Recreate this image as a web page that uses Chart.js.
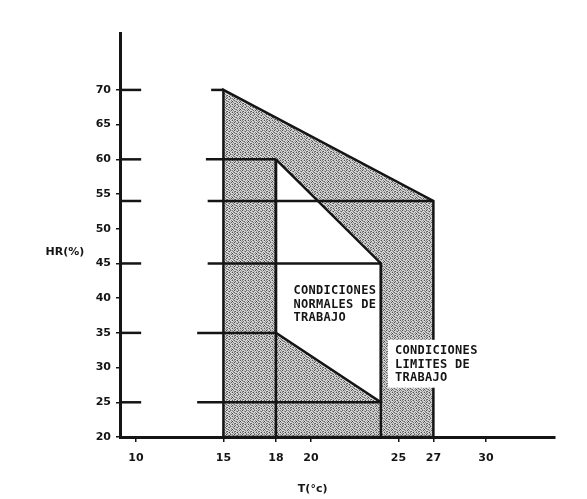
<!DOCTYPE html>
<html>
<head>
<meta charset="utf-8">
<script src="https://cdn.jsdelivr.net/npm/chart.js@4.4.1/dist/chart.umd.min.js"></script>
<style>
  html, body { margin: 0; padding: 0; background: #fff; }
</style>
</head>
<body>
<canvas id="chart" width="587" height="499"></canvas>
<script>
// Tick labels
const tempTicks = [10, 15, 18, 20, 25, 27, 30];
const hrTicks = [20, 25, 30, 35, 40, 45, 50, 55, 60, 65, 70];

// Limit working conditions (outer shaded zone)
const limitTemp = [15, 15, 27, 27];
const limitHR = [20, 70, 54, 20];

// Normal working conditions (inner white zone)
const normalTemp = [18, 24, 24, 18];
const normalHR = [60, 45, 25, 35];

// Horizontal guide lines: HR level, start and end temperature
const guideHR = [70, 60, 54, 45, 35, 25];
const guideFrom = [14.3, 14, 14.1, 14.1, 13.5, 13.5];
const guideTo = [15, 18, 27, 24, 18, 24];

// Vertical split lines inside the zone
const splitTemp = [18, 24];
const splitTop = [60, 45];

const ink = '#151515';

// Stipple texture like the scanned screen tone (grey levels, 8x8 tile)
function makeStipple() {
  const rows = [
    '5c8da4db',
    'd9c6db8d',
    '8d4bcd6a',
    'b7dd85cd',
    'da6cdbd7',
    '4db86dac',
    'c8ddb7d5',
    'ad75dc9d'
  ];
  const c = document.createElement('canvas');
  c.width = 8;
  c.height = 8;
  const g = c.getContext('2d');
  rows.forEach((row, r) => {
    for (let k = 0; k < 8; k++) {
      const h = row[k];
      g.fillStyle = '#' + h + h + h;
      g.fillRect(k, r, 1, 1);
    }
  });
  return g.createPattern(c, 'repeat');
}

function polygon(xs, ys) {
  const pts = xs.map((x, i) => ({ x: x, y: ys[i] }));
  pts.push({ x: xs[0], y: ys[0] });
  return pts;
}

function segment(x1, y1, x2, y2, width) {
  return {
    data: [{ x: x1, y: y1 }, { x: x2, y: y2 }],
    showLine: true,
    borderColor: ink,
    borderWidth: width || 2.5,
    pointRadius: 0,
    fill: false,
    order: 1
  };
}

const datasets = [];

datasets.push({
  data: polygon(limitTemp, limitHR),
  showLine: true,
  borderColor: ink,
  borderWidth: 2.5,
  backgroundColor: makeStipple(),
  fill: 'shape',
  pointRadius: 0,
  order: 3
});

datasets.push({
  data: polygon(normalTemp, normalHR),
  showLine: true,
  borderColor: ink,
  borderWidth: 2.5,
  backgroundColor: '#ffffff',
  fill: 'shape',
  pointRadius: 0,
  order: 2
});

guideHR.forEach((hr, i) => {
  datasets.push(segment(guideFrom[i], hr, guideTo[i], hr));
  // long tick on the HR axis
  datasets.push(segment(9.09, hr, 10.3, hr));
});

splitTemp.forEach((t, i) => {
  datasets.push(segment(t, 20, t, splitTop[i]));
});

// Zone labels and axis titles
const zoneLabels = [
  { lines: ['CONDICIONES', 'NORMALES DE', 'TRABAJO'], t: 19.0, hr: 41.0 },
  { lines: ['CONDICIONES', 'LIMITES DE', 'TRABAJO'], t: 24.8, hr: 32.4 }
];

const textPlugin = {
  id: 'texts',
  afterDatasetsDraw(chart) {
    const { ctx, scales: { x, y }, chartArea } = chart;
    ctx.save();

    // white patch behind the "limites" label
    const bx0 = x.getPixelForValue(24.4);
    const bx1 = x.getPixelForValue(29.9);
    const by0 = y.getPixelForValue(34);
    const by1 = y.getPixelForValue(27.1);
    ctx.fillStyle = '#fff';
    ctx.fillRect(bx0, by0, bx1 - bx0, by1 - by0);

    ctx.fillStyle = ink;
    ctx.font = 'bold 12px "DejaVu Sans Mono"';
    ctx.letterSpacing = '0.3px';
    ctx.textAlign = 'left';
    ctx.textBaseline = 'middle';
    zoneLabels.forEach(lab => {
      const px = x.getPixelForValue(lab.t);
      const py = y.getPixelForValue(lab.hr);
      lab.lines.forEach((txt, i) => {
        ctx.fillText(txt, px, py + i * 13.5);
      });
    });

    ctx.letterSpacing = '0px';
    ctx.font = 'bold 11px "DejaVu Sans"';
    ctx.textAlign = 'center';
    ctx.fillText('HR(%)', chartArea.left - 55, y.getPixelForValue(46.6));
    ctx.fillText('T(°c)', x.getPixelForValue(20.1), 489);
    ctx.restore();
  }
};

const tickFont = { family: 'DejaVu Sans', size: 11, weight: 'bold' };

new Chart(document.getElementById('chart'), {
  type: 'scatter',
  data: { datasets: datasets },
  options: {
    responsive: false,
    devicePixelRatio: 1,
    animation: false,
    layout: { padding: { top: 33, right: 32, left: 0, bottom: 0 } },
    plugins: {
      legend: { display: false },
      tooltip: { enabled: false }
    },
    scales: {
      x: {
        type: 'linear',
        min: 9.09,
        max: 33.95,
        afterBuildTicks: s => { s.ticks = tempTicks.map(v => ({ value: v })); },
        afterFit: s => { s.height = 62; },
        ticks: { font: tickFont, color: ink, padding: 10, autoSkip: false, maxRotation: 0 },
        grid: { drawOnChartArea: false, drawTicks: true, tickLength: 5, color: ink, lineWidth: 1.5 },
        border: { display: true, color: ink, width: 3 }
      },
      y: {
        type: 'linear',
        min: 20,
        max: 78.2,
        afterBuildTicks: s => { s.ticks = hrTicks.map(v => ({ value: v })); },
        afterFit: s => { s.width = 120; },
        ticks: { font: tickFont, color: ink, padding: 5, autoSkip: false },
        grid: { drawOnChartArea: false, drawTicks: true, tickLength: 4, color: ink, lineWidth: 1.5 },
        border: { display: true, color: ink, width: 3 }
      }
    }
  },
  plugins: [textPlugin]
});
</script>
</body>
</html>
